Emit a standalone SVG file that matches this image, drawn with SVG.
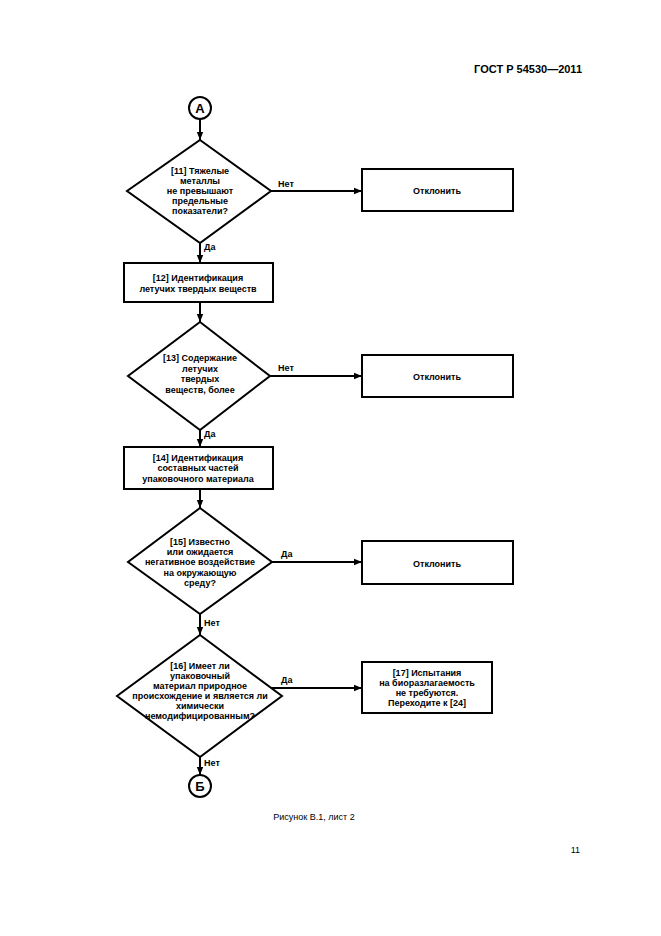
<svg xmlns="http://www.w3.org/2000/svg" width="661" height="936" viewBox="0 0 661 936">
<style>
.s{fill:#fff;stroke:#000;stroke-width:2}
.t{font-family:"Liberation Sans",Arial,sans-serif;font-size:9px;font-weight:bold;text-anchor:middle;fill:#000}
.l{font-family:"Liberation Sans",Arial,sans-serif;font-size:9px;font-weight:bold;fill:#000}
.c{stroke:#000;stroke-width:2;fill:none}
</style>
<defs>
<marker id="a" viewBox="0 0 10 10" refX="10" refY="5" markerWidth="4" markerHeight="4" orient="auto" markerUnits="strokeWidth"><path d="M0,1 L10,5 L0,9 z" fill="#000"/></marker>
</defs>
<rect width="661" height="936" fill="#fff"/>
<text x="582" y="73" font-family="Liberation Sans,Arial,sans-serif" font-size="11" font-weight="bold" text-anchor="end">ГОСТ Р 54530—2011</text>

<g id="connectors">
<line class="c" x1="200" y1="119" x2="200" y2="140" marker-end="url(#a)"/>
<line class="c" x1="271" y1="191" x2="362" y2="191" marker-end="url(#a)"/>
<line class="c" x1="200" y1="243" x2="200" y2="263" marker-end="url(#a)"/>
<line class="c" x1="200" y1="302" x2="200" y2="322" marker-end="url(#a)"/>
<line class="c" x1="270" y1="376" x2="362" y2="376" marker-end="url(#a)"/>
<line class="c" x1="200" y1="430" x2="200" y2="447" marker-end="url(#a)"/>
<line class="c" x1="200" y1="489" x2="200" y2="508" marker-end="url(#a)"/>
<line class="c" x1="272" y1="562" x2="362" y2="562" marker-end="url(#a)"/>
<line class="c" x1="200" y1="614" x2="200" y2="635" marker-end="url(#a)"/>
<line class="c" x1="271" y1="688" x2="362" y2="688" marker-end="url(#a)"/>
<line class="c" x1="200" y1="757" x2="200" y2="775" marker-end="url(#a)"/>
<text class="l" x="278" y="187">Нет</text>
<text class="l" x="204" y="250">Да</text>
<text class="l" x="278" y="371">Нет</text>
<text class="l" x="204" y="437">Да</text>
<text class="l" x="281" y="557">Да</text>
<text class="l" x="204" y="626">Нет</text>
<text class="l" x="281" y="683">Да</text>
<text class="l" x="204" y="766">Нет</text>
</g>

<g id="A">
<circle class="s" cx="200" cy="108" r="11"/>
<text x="200" y="113" font-family="Liberation Sans,Arial,sans-serif" font-size="13" font-weight="bold" text-anchor="middle">А</text>
</g>

<g id="n11">
<polygon class="s" points="200,140 271,191 200,243 127,191"/>
<text class="t" x="200" y="174">[11] Тяжелые</text>
<text class="t" x="200" y="184">металлы</text>
<text class="t" x="200" y="194">не превышают</text>
<text class="t" x="200" y="204">предельные</text>
<text class="t" x="200" y="214">показатели?</text>
</g>

<g id="r1">
<rect class="s" x="362" y="169" width="151" height="42"/>
<text class="t" x="437" y="194">Отклонить</text>
</g>

<g id="n12">
<rect class="s" x="124" y="263" width="149" height="39"/>
<text class="t" x="198" y="281">[12] Идентификация</text>
<text class="t" x="198" y="292">летучих твердых веществ</text>
</g>

<g id="n13">
<polygon class="s" points="200,322 270,376 200,430 128,376"/>
<text class="t" x="200" y="361">[13] Содержание</text>
<text class="t" x="200" y="372">летучих</text>
<text class="t" x="200" y="382">твердых</text>
<text class="t" x="200" y="393">веществ, более</text>
</g>

<g id="r2">
<rect class="s" x="362" y="355" width="151" height="42"/>
<text class="t" x="437" y="380">Отклонить</text>
</g>

<g id="n14">
<rect class="s" x="124" y="447" width="149" height="42"/>
<text class="t" x="198" y="461">[14] Идентификация</text>
<text class="t" x="198" y="471">составных частей</text>
<text class="t" x="198" y="482">упаковочного материала</text>
</g>

<g id="n15">
<polygon class="s" points="200,508 272,562 200,614 128,562"/>
<text class="t" x="200" y="545">[15] Известно</text>
<text class="t" x="200" y="555">или ожидается</text>
<text class="t" x="200" y="565">негативное воздействие</text>
<text class="t" x="200" y="576">на окружающую</text>
<text class="t" x="200" y="586">среду?</text>
</g>

<g id="r3">
<rect class="s" x="362" y="541" width="151" height="43"/>
<text class="t" x="437" y="567">Отклонить</text>
</g>

<g id="n16">
<polygon class="s" points="200,635 282,696 200,757 117,696"/>
<text class="t" x="200" y="669">[16] Имеет ли</text>
<text class="t" x="200" y="679">упаковочный</text>
<text class="t" x="200" y="689">материал природное</text>
<text class="t" x="200" y="699">происхождение и является ли</text>
<text class="t" x="200" y="709">химически</text>
<text class="t" x="200" y="719">немодифицированным?</text>
</g>

<g id="n17">
<rect class="s" x="362" y="662" width="130" height="51"/>
<text class="t" x="427" y="676">[17] Испытания</text>
<text class="t" x="427" y="686">на биоразлагаемость</text>
<text class="t" x="427" y="696">не требуются.</text>
<text class="t" x="427" y="706">Переходите к [24]</text>
</g>

<g id="B">
<circle class="s" cx="200" cy="786" r="11"/>
<text x="200" y="791" font-family="Liberation Sans,Arial,sans-serif" font-size="13" font-weight="bold" text-anchor="middle">Б</text>
</g>

<text x="314" y="820" font-family="Liberation Sans,Arial,sans-serif" font-size="9" text-anchor="middle">Рисунок В.1, лист 2</text>
<text x="580" y="853" font-family="Liberation Sans,Arial,sans-serif" font-size="9" text-anchor="end">11</text>
</svg>
